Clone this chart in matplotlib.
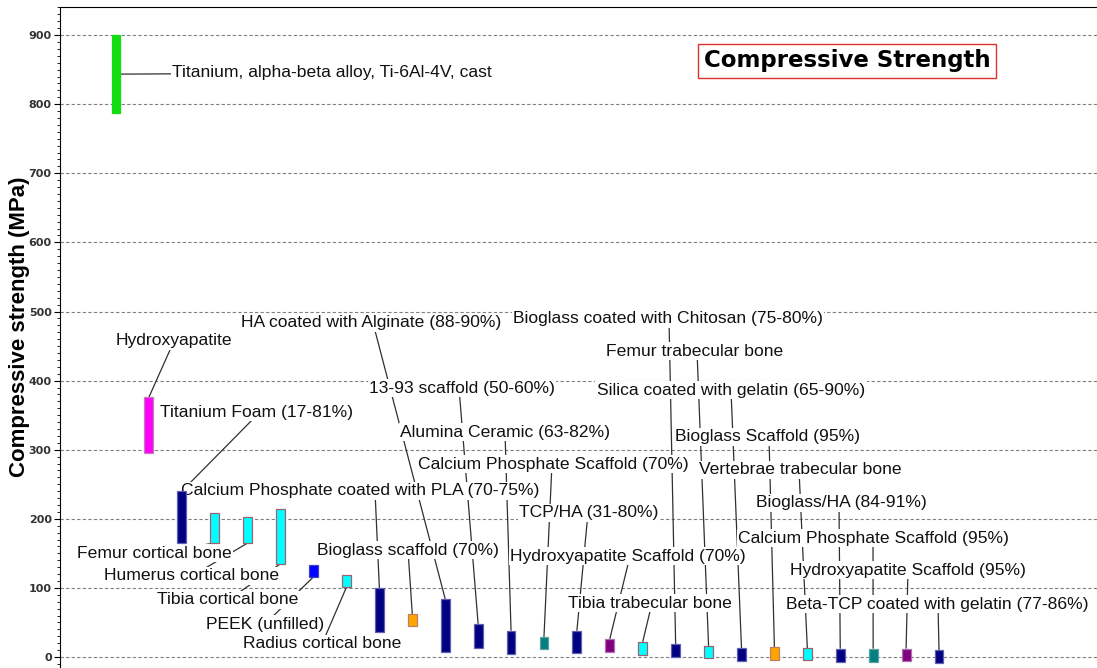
import numpy as np
import matplotlib
matplotlib.use("Agg")
import matplotlib.pyplot as plt
from matplotlib.ticker import MultipleLocator

plt.rcParams['font.family'] = ['Liberation Sans', 'DejaVu Sans']

# material ranges (MPa), left to right
materials = [
    'Titanium, alpha-beta alloy, Ti-6Al-4V, cast', 'Hydroxyapatite', 'Titanium Foam (17-81%)',
    'Femur cortical bone', 'Humerus cortical bone', 'Tibia cortical bone', 'PEEK (unfilled)',
    'Radius cortical bone', 'Calcium Phosphate coated with PLA (70-75%)', 'Bioglass scaffold (70%)',
    'HA coated with Alginate (88-90%)', '13-93 scaffold (50-60%)', 'Alumina Ceramic (63-82%)',
    'Calcium Phosphate Scaffold (70%)', 'TCP/HA (31-80%)', 'Hydroxyapatite Scaffold (70%)',
    'Tibia trabecular bone', 'Bioglass coated with Chitosan (75-80%)', 'Femur trabecular bone',
    'Silica coated with gelatin (65-90%)', 'Bioglass Scaffold (95%)', 'Vertebrae trabecular bone',
    'Bioglass/HA (84-91%)', 'Calcium Phosphate Scaffold (95%)', 'Hydroxyapatite Scaffold (95%)',
    'Beta-TCP coated with gelatin (77-86%)',
]
low = [787, 295, 165, 165, 165, 135, 116, 101, 36, 45, 7, 13, 4, 12, 6, 7, 3, 0, -1, -6, -4, -4, -7, -7, -6, -9]
high = [900, 376, 240, 208, 203, 214, 133, 118, 100, 62, 84, 48, 38, 29, 38, 26, 22, 19, 16, 13, 14, 13, 12, 12, 12, 10]
colors = ['#11dd11', '#ff00ff', '#000080', '#00ffff', '#00ffff', '#00ffff', '#0000ff', '#00ffff',
          '#000080', '#ffa500', '#000080', '#000080', '#000080', '#008080', '#000080', '#800080',
          '#00ffff', '#000080', '#00ffff', '#000080', '#ffa500', '#00ffff', '#000080', '#008080',
          '#800080', '#000080']
edge_for = {'#11dd11': '#11dd11', '#ff00ff': '#c080b0', '#000080': '#6060b0', '#00ffff': '#a06070',
            '#0000ff': '#4040c0', '#ffa500': '#c08060', '#008080': '#60a0a0', '#800080': '#b070b0'}

# label layout in pixel space of the original: text centre, leader anchor, attach point on bar
lab_cx = [332, 174, 257, 154, 192, 228, 265, 322, 360, 408, 371, 462, 505, 553, 589, 628,
          650, 668, 695, 731, 768, 800, 841, 874, 908, 937]
lab_cy = [73, 341, 412, 553, 576, 600, 624, 644, 491, 550, 323, 388, 432, 464, 513, 556,
          603, 319, 351, 390, 437, 470, 503, 538, 570, 604]
anc_x = [332, 174, 260, 154, 192, 228, 265, 322, 375, 408, 373, 459, 505, 552, 588, 630,
         652, 669, 697, 731, 769, 799, 839, 873, 908, 938]
attach = ['mid', 'top', 'top', 'bottom', 'bottom', 'bottom', 'bottom', 'bottom'] + ['top'] * 18

W, H = 1097, 668
fig = plt.figure(figsize=(W / 100, H / 100), dpi=100)
ax = fig.add_axes([60 / W, 0, 1 - 60 / W, (H - 7) / H])

# pixel -> data helpers (axes limits fixed below)
x0, dx = 116, 32.92
y0, dy = 657, 0.691
ax.set_xlim((60 - x0) / dx, (W - x0) / dx)
ax.set_ylim((y0 - H) / dy, (y0 - 7) / dy)


def px(x):
    return (x - x0) / dx


def py(y):
    return (y0 - y) / dy


xs = np.arange(len(materials))
low_a = np.array(low)
high_a = np.array(high)
ax.bar(xs, high_a - low_a, bottom=low_a, width=0.27, color=colors,
       edgecolor=[edge_for[c] for c in colors], linewidth=0.9, zorder=5)

for i, name in enumerate(materials):
    if attach[i] == 'top':
        by = high[i]
    elif attach[i] == 'bottom':
        by = low[i]
    else:
        by = (low[i] + high[i]) / 2
    ax.plot([px(anc_x[i]), xs[i]], [py(lab_cy[i]), by], color='#303030', lw=0.9,
            zorder=2, solid_capstyle='butt')
    ax.text(px(lab_cx[i]), py(lab_cy[i]), name, ha='center', va='center', fontsize=12.6,
            color='#111111', zorder=4,
            bbox=dict(facecolor='white', edgecolor='none', pad=1.0))

ax.yaxis.set_major_locator(MultipleLocator(100))
ax.yaxis.set_minor_locator(MultipleLocator(10))
ax.set_yticks(np.arange(0, 1000, 100))
ax.grid(axis='y', which='major', color='#808080', linestyle=(0, (3, 2)), linewidth=0.8, zorder=1)
ax.set_axisbelow(True)
ax.tick_params(axis='y', which='major', length=4, labelsize=8, labelcolor='#333333', pad=2)
ax.tick_params(axis='y', which='minor', length=2)
for lbl in ax.get_yticklabels():
    lbl.set_fontfamily('DejaVu Sans')
    lbl.set_fontweight('bold')
ax.set_xticks([])
ax.spines['right'].set_visible(False)
ax.spines['bottom'].set_visible(False)
ax.set_ylabel('Compressive strength (MPa)', fontsize=16, fontweight='bold')
ax.yaxis.set_label_coords(-0.029, 0.516)

ax.text(px(847), py(61), 'Compressive Strength', ha='center', va='center', fontsize=16.5,
        fontweight='bold', family='DejaVu Sans', zorder=6,
        bbox=dict(facecolor='white', edgecolor='#e03030', linewidth=1, pad=4))

fig.savefig('out.png', dpi=100)
